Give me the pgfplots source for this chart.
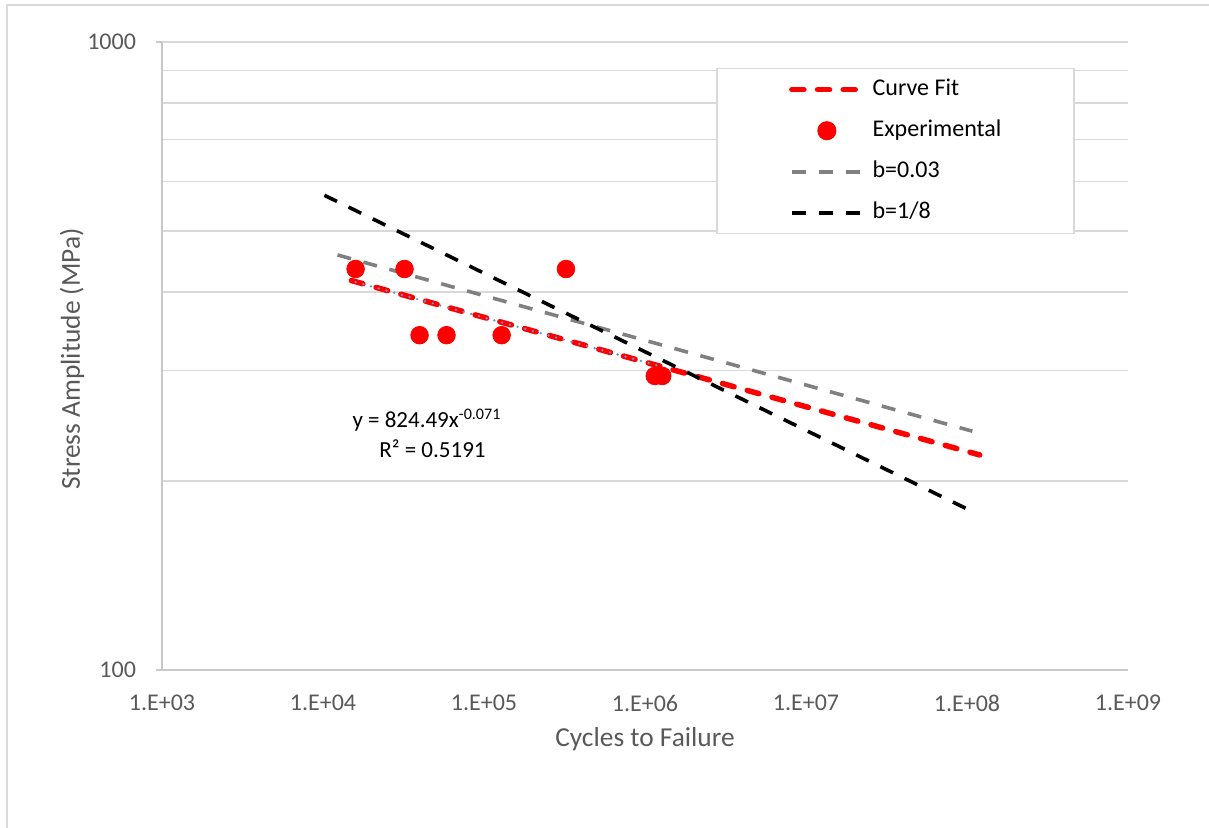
\documentclass[border=0pt]{standalone}
\usepackage{pgfplots}
\pgfplotsset{compat=1.18}
\usepackage{fontspec}
\setmainfont{Carlito}
\definecolor{gridc}{HTML}{D9D9D9}
\definecolor{axisc}{HTML}{C8C8C8}
\definecolor{labc}{HTML}{595959}
\definecolor{trend}{HTML}{5B9BD5}
\definecolor{grayd}{HTML}{808080}
\begin{document}
\begin{tikzpicture}
\useasboundingbox (-81pt,-79pt) rectangle (523.5pt,335pt);
\draw[gridc, line width=0.75pt] (-77.5pt,-79pt) -- (-77.5pt,332.5pt) -- (523.5pt,332.5pt);
\begin{axis}[
  at={(0,0)}, anchor=south west,
  scale only axis, width=483pt, height=314pt,
  xmode=log, ymode=log,
  xmin=1e3, xmax=1e9, ymin=100, ymax=1000,
  axis x line*=bottom, axis y line*=left,
  x axis line style={-, axisc, line width=0.75pt},
  y axis line style={-, axisc, line width=0.75pt},
  xtick={1e3,1e4,1e5,1e6,1e7,1e8,1e9},
  xticklabels={1.E+03,1.E+04,1.E+05,1.E+06,1.E+07,1.E+08,1.E+09},
  ytick={100,1000}, yticklabels={100,1000},
  minor ytick={200,300,400,500,600,700,800,900},
  minor xtick={},
  ymajorgrids, yminorgrids,
  major grid style={gridc, line width=0.75pt},
  minor grid style={gridc, line width=0.75pt},
  tick align=outside,
  xtick style={draw=none},
  ytick style={axisc, line width=0.75pt},
  major tick length=3pt, minor tick length=0pt,
  /pgf/number format/assume math mode=true,
  tick label style={font=\fontsize{12}{14}\selectfont, text=labc},
  yticklabel style={xshift=-6.5pt},
  xticklabel style={yshift=-6pt},
  every axis x label/.style={at={(rel axis cs:0.5,0)}, yshift=-34.5pt, anchor=center},
  every axis y label/.style={at={(rel axis cs:0,0.5)}, xshift=-45pt, yshift=-1.5pt, rotate=90, anchor=center},
  label style={font=\fontsize{13.7}{16}\selectfont, text=labc},
  xlabel={Cycles to Failure},
  ylabel={Stress Amplitude (MPa)},
  legend cell align=left,
  legend image code/.code={\path (0pt,0pt) (35pt,0pt); \draw[mark repeat=2,mark phase=2,#1] plot coordinates {(0pt,0pt) (17.5pt,0pt) (35pt,0pt)};},
  legend style={at={(0.5735,0.9586)}, anchor=north west, draw=gridc, line width=0.75pt,
    minimum width=178.5pt, minimum height=82.5pt,
    font=\fontsize{12}{14}\selectfont, text=black,
    row sep=9.5pt,
    nodes={minimum width=0pt, minimum height=0pt, inner sep=0pt, text height=8.5pt, text depth=2.5pt},
    /tikz/every odd column/.append style={column sep=4pt}},
]
% Curve Fit
\addplot[red, line width=2.75pt, line cap=round, dash pattern=on 6pt off 6.84pt] coordinates {(1.5e4,417) (1.2e8,220)};
\addlegendentry{Curve Fit}
% Experimental
\addplot[only marks, mark=*, mark size=4.4pt, color=red, fill=red] coordinates {
 (1.594e4,435) (3.21e4,435) (3.23e5,435)
 (3.98e4,341.3) (5.85e4,341.3) (1.287e5,341.3)
 (1.15e6,293.9) (1.28e6,293.9)};
\addlegendentry{Experimental}
% b=0.03
\addplot[grayd, line width=1.8pt, dash pattern=on 7pt off 6.45pt] coordinates {(1.23e4,458) (1.08e8,240)};
\addlegendentry{b=0.03}
% b=1/8
\addplot[black, line width=1.8pt, dash pattern=on 7pt off 6.45pt] coordinates {(1.02e4,570) (1.0e8,180.5)};
\addlegendentry{b=1/8}
% power trendline
\addplot[trend, line width=1.3pt, line cap=round, dash pattern=on 0pt off 4pt, forget plot] coordinates {(1.594e4,414.7) (1.28e6,303.9)};
\node[font=\fontsize{11.5}{14}\selectfont, text=black] at (rel axis cs:0.2743,0.398) {y = 824.49x\textsuperscript{-0.071}};
\node[font=\fontsize{11.5}{14}\selectfont, text=black] at (rel axis cs:0.280,0.352) {R² = 0.5191};
\end{axis}
\end{tikzpicture}
\end{document}
